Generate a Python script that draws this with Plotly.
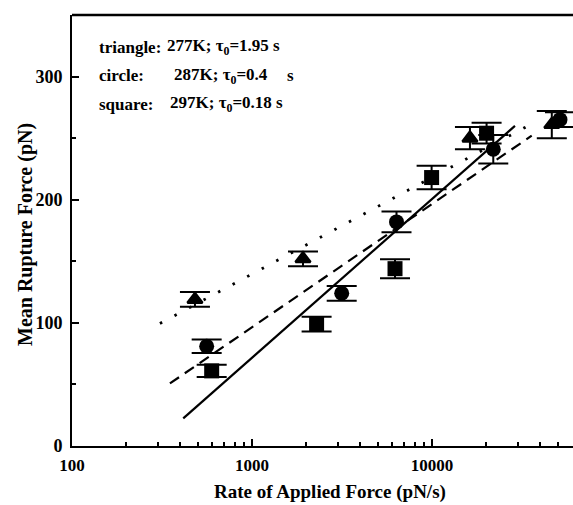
import plotly.graph_objects as go

# ---- data ----
tri_x = [482, 1920, 16250, 46300]
tri_y = [119, 152, 250, 261]
tri_e = [6, 6, 9, 11]

cir_x = [560, 3150, 6350, 21900, 51400]
cir_y = [81, 124, 182, 241, 265]
cir_e = [5.5, 6, 8.4, 11.5, 6]

sq_x = [597, 2285, 6230, 9950, 20100]
sq_y = [61, 99, 144, 218, 254]
sq_e = [5, 6, 7.7, 9.5, 8.4]

dot_x = [308, 37300]
dot_y = [99.5, 263]
dash_x = [350, 35800]
dash_y = [50.8, 252]
solid_x = [415, 28900]
solid_y = [22.4, 260]

x_major = [100, 1000, 10000]
x_major_text = ["100", "1000", "10000"]
x_minor = [m * d for d in (100, 1000, 10000) for m in range(2, 10)]
y_major = [0, 100, 200, 300]

legend_lines = [
    ("triangle:", "277K; τ<sub>0</sub>=1.95 s", None),
    ("circle:", "287K; τ<sub>0</sub>=0.4", "s"),
    ("square:", "297K; τ<sub>0</sub>=0.18 s", None),
]

W, H = 573, 505
L, R, T, B = 72, 0, 15, 59
PW, PH = W - L - R, H - T - B
FONT = "Liberation Serif"

def px(xp):
    return (xp - L) / PW

def py(yp):
    return 1 - (yp - T) / PH

fig = go.Figure()

fig.add_trace(go.Scatter(x=dot_x, y=dot_y, mode="lines",
                         line=dict(color="black", width=2.8, dash="2.5px,14px")))
fig.add_trace(go.Scatter(x=dash_x, y=dash_y, mode="lines",
                         line=dict(color="black", width=2.2, dash="11px,7px")))
fig.add_trace(go.Scatter(x=solid_x, y=solid_y, mode="lines",
                         line=dict(color="black", width=2.2)))

def err(e):
    return dict(type="data", array=e, visible=True, color="black",
                thickness=2, width=15)

fig.add_trace(go.Scatter(x=sq_x, y=sq_y, mode="markers", error_y=err(sq_e),
                         marker=dict(symbol="square", size=15, color="black")))
fig.add_trace(go.Scatter(x=cir_x, y=cir_y, mode="markers", error_y=err(cir_e),
                         marker=dict(symbol="circle", size=15, color="black")))
fig.add_trace(go.Scatter(x=tri_x, y=tri_y, mode="markers", error_y=err(tri_e),
                         marker=dict(symbol="triangle-up", size=13, color="black",
                                     line=dict(color="black", width=2.5))))

fig.update_layout(
    width=W, height=H, margin=dict(l=L, r=R, t=T, b=B),
    paper_bgcolor="white", plot_bgcolor="white", showlegend=False,
    font=dict(family=FONT, size=16, color="black"),
)
fig.update_xaxes(
    type="log", range=[2, 2 + PW / 180], showgrid=False, zeroline=False,
    showline=True, linecolor="black", linewidth=2,
    tickmode="array", tickvals=x_major, ticktext=x_major_text,
    ticks="inside", ticklen=7, tickwidth=2, tickcolor="black",
    tickfont=dict(family=FONT, size=17, color="black", weight="bold"),
    ticklabelstandoff=3,
    minor=dict(tickvals=x_minor, ticks="inside", ticklen=4, tickwidth=2, tickcolor="black"),
)
fig.update_yaxes(
    range=[0, 350], showgrid=False, zeroline=False,
    showline=True, linecolor="black", linewidth=2,
    tickmode="array", tickvals=y_major,
    ticks="inside", ticklen=7, tickwidth=2, tickcolor="black",
    tickfont=dict(family=FONT, size=18, color="black", weight="bold"),
    ticklabelstandoff=4,
    minor=dict(dtick=50, ticks="inside", ticklen=4, tickwidth=2, tickcolor="black"),
)

# top frame line
fig.add_shape(type="line", xref="paper", yref="paper", x0=0, x1=1, y0=1, y1=1,
              line=dict(color="black", width=2.5))

# axis titles
fig.add_annotation(text="<b>Rate of Applied Force (pN/s)</b>", xref="paper", yref="paper",
                   x=px(330), y=py(492), showarrow=False, xanchor="center", yanchor="middle",
                   font=dict(family=FONT, size=19, color="black"))
fig.add_annotation(text="<b>Mean Rupture Force (pN)</b>", xref="paper", yref="paper",
                   x=px(25), y=py(235), showarrow=False, xanchor="center", yanchor="middle",
                   textangle=-90, font=dict(family=FONT, size=20, color="black"))

# text block
rows_y = [47, 75.5, 104]
second_x = [165, 172, 168]
for (a, b, c), yy, sx in zip(legend_lines, rows_y, second_x):
    fig.add_annotation(text="<b>" + a + "</b>", xref="paper", yref="paper",
                       x=px(97), y=py(yy), showarrow=False, xanchor="left", yanchor="middle",
                       font=dict(family=FONT, size=17, color="black"))
    fig.add_annotation(text="<b>" + b + "</b>", xref="paper", yref="paper",
                       x=px(sx), y=py(yy), showarrow=False, xanchor="left", yanchor="middle",
                       font=dict(family=FONT, size=17, color="black"))
    if c:
        fig.add_annotation(text="<b>" + c + "</b>", xref="paper", yref="paper",
                           x=px(285), y=py(yy), showarrow=False, xanchor="left", yanchor="middle",
                           font=dict(family=FONT, size=17, color="black"))

fig.write_html("out.html")
